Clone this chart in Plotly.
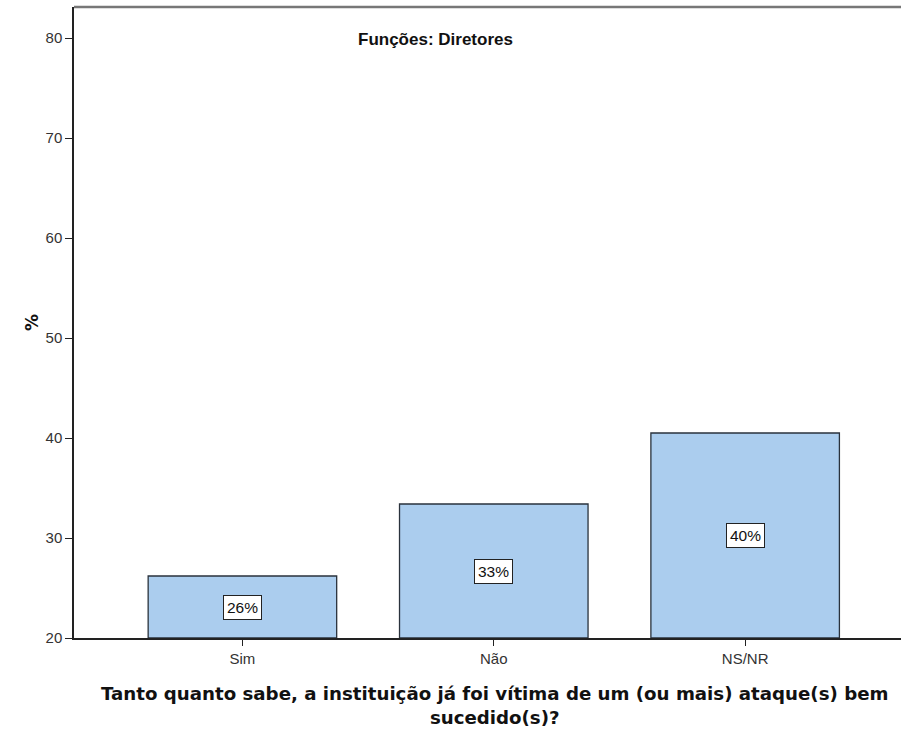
import plotly.graph_objects as go

categories = ["Sim", "Não", "NS/NR"]
values = [26.2, 33.4, 40.5]
bar_labels = ["26%", "33%", "40%"]
y_ticks = [20, 30, 40, 50, 60, 70, 80]

W, H = 901, 731
L, R, T, B = 74, 0, 7, 93
pw, ph = W - L - R, H - T - B

fig = go.Figure()
fig.add_trace(go.Bar(
    x=list(range(len(categories))),
    y=[v - 20 for v in values],
    base=20,
    width=0.75,
    marker=dict(color="#abcdee", line=dict(color="#2a323c", width=1.3)),
    hoverinfo="skip",
))

for i, (v, lab) in enumerate(zip(values, bar_labels)):
    fig.add_annotation(
        x=i, y=(20 + v) / 2, xref="x", yref="y", text=lab, showarrow=False,
        font=dict(family="Liberation Sans, Arial, sans-serif", size=15.5, color="#111"),
        bgcolor="white", bordercolor="#222", borderwidth=1, borderpad=3,
    )

fig.add_annotation(
    x=(435 - L) / pw, y=(H - B - 28) / ph, xref="paper", yref="paper",
    text="<b>Funções: Diretores</b>", showarrow=False,
    font=dict(family="Liberation Sans Narrow, Arial Narrow, Liberation Sans, sans-serif", size=17, color="#111"),
)
fig.add_annotation(
    x=(20 - L) / pw, y=(H - B - 322) / ph, xref="paper", yref="paper",
    text="<b>%</b>", textangle=-90, showarrow=False,
    font=dict(family="DejaVu Sans, sans-serif", size=17, color="#111"),
)
fig.add_annotation(
    x=(494 - L) / pw, y=(H - B - 681) / ph, xref="paper", yref="paper",
    yanchor="top",
    text="<b>Tanto quanto sabe, a instituição já foi vítima de um (ou mais) ataque(s) bem<br>sucedido(s)?</b>",
    showarrow=False, align="center",
    font=dict(family="DejaVu Sans, sans-serif", size=18.2, color="#111"),
)

fig.update_layout(
    width=W, height=H,
    margin=dict(l=L, r=R, t=T, b=B),
    paper_bgcolor="white", plot_bgcolor="white",
    showlegend=False,
    bargap=0.25,
    xaxis=dict(
        range=[-0.67, 2.62],
        tickmode="array", tickvals=list(range(len(categories))), ticktext=categories,
        ticks="outside", ticklen=6, tickcolor="#222", tickwidth=1.3,
        showline=True, linecolor="#222", linewidth=1.5,
        showgrid=False, zeroline=False,
        tickfont=dict(family="Liberation Sans, Arial, sans-serif", size=15, color="#333"),
        fixedrange=True,
    ),
    yaxis=dict(
        range=[20, 83.1],
        tickmode="array", tickvals=y_ticks,
        ticks="outside", ticklen=7, tickcolor="#222", tickwidth=1.3,
        showline=True, linecolor="#222", linewidth=1.5,
        showgrid=False, zeroline=False,
        tickfont=dict(family="Liberation Sans, Arial, sans-serif", size=15, color="#333"),
        fixedrange=True,
    ),
)

fig.add_shape(type="line", xref="paper", yref="paper", x0=0, x1=1, y0=1, y1=1,
              line=dict(color="#777", width=2.5))

fig.write_html(
    "out.html",
    config={"displayModeBar": False},
    post_script="document.body.style.margin='0';document.body.style.overflow='hidden';",
)
